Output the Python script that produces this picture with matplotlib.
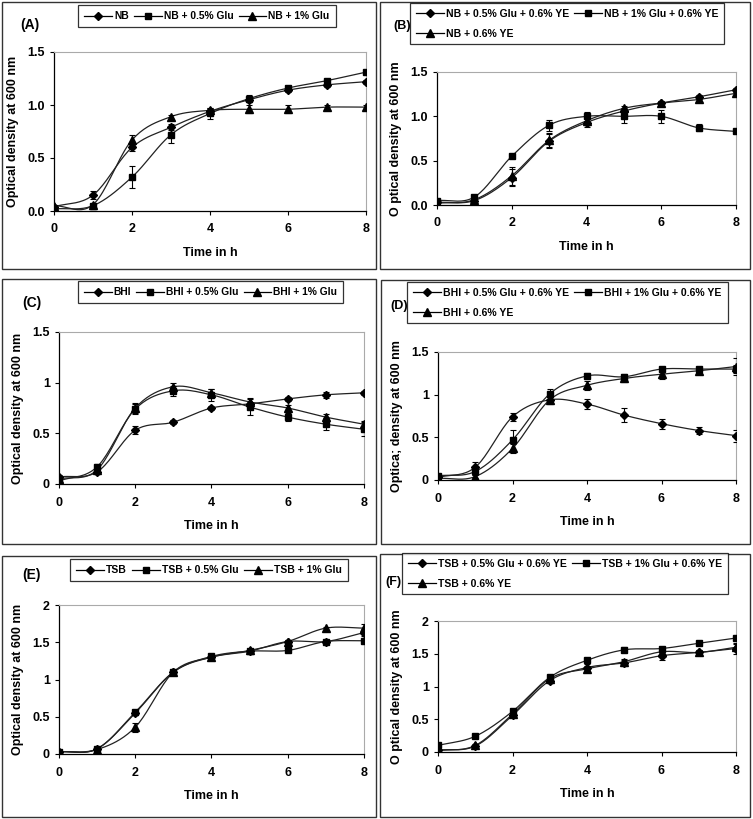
import matplotlib
matplotlib.use("Agg")
import matplotlib.pyplot as plt
import numpy as np
from matplotlib.lines import Line2D
from matplotlib.patches import Rectangle

plt.rcParams['font.family'] = ['Liberation Sans', 'DejaVu Sans']
plt.rcParams['font.weight'] = 'bold'

hours = [0, 1, 2, 3, 4, 5, 6, 7, 8]

# panel A - NB
nb_labels = ["NB", "NB + 0.5% Glu", "NB + 1% Glu"]
nb = [0.04, 0.15, 0.60, 0.79, 0.94, 1.05, 1.14, 1.19, 1.22]
nb_glu05 = [0.02, 0.05, 0.32, 0.72, 0.92, 1.06, 1.16, 1.23, 1.31]
nb_glu1 = [0.05, 0.06, 0.67, 0.89, 0.95, 0.96, 0.96, 0.98, 0.98]
nb_err = [0.02, 0.04, 0.03, 0.03, 0.02, 0.02, 0.02, 0.02, 0.02]
nb_glu05_err = [0.01, 0.02, 0.10, 0.08, 0.05, 0.03, 0.02, 0.02, 0.02]
nb_glu1_err = [0.01, 0.02, 0.05, 0.02, 0.02, 0.04, 0.04, 0.02, 0.02]

# panel B - NB + YE
nbye_labels = ["NB + 0.5% Glu + 0.6% YE", "NB + 1% Glu + 0.6% YE", "NB + 0.6% YE"]
nbye_glu05 = [0.03, 0.05, 0.31, 0.72, 0.93, 1.06, 1.15, 1.22, 1.30]
nbye_glu1 = [0.05, 0.09, 0.55, 0.90, 1.00, 1.00, 1.00, 0.87, 0.83]
nbye = [0.02, 0.06, 0.33, 0.73, 0.95, 1.09, 1.15, 1.19, 1.26]
nbye_glu05_err = [0.02, 0.02, 0.10, 0.08, 0.05, 0.03, 0.02, 0.02, 0.02]
nbye_glu1_err = [0.02, 0.02, 0.02, 0.06, 0.05, 0.07, 0.07, 0.04, 0.02]
nbye_err = [0.02, 0.02, 0.10, 0.08, 0.05, 0.03, 0.02, 0.02, 0.02]

# panel C - BHI
bhi_labels = ["BHI", "BHI + 0.5% Glu", "BHI + 1% Glu"]
bhi = [0.07, 0.12, 0.53, 0.61, 0.75, 0.79, 0.84, 0.88, 0.90]
bhi_glu05 = [0.03, 0.17, 0.74, 0.92, 0.88, 0.76, 0.66, 0.59, 0.54]
bhi_glu1 = [0.05, 0.14, 0.75, 0.96, 0.90, 0.81, 0.75, 0.66, 0.59]
bhi_err = [0.02, 0.02, 0.04, 0.02, 0.02, 0.02, 0.02, 0.03, 0.02]
bhi_glu05_err = [0.02, 0.03, 0.05, 0.05, 0.06, 0.08, 0.04, 0.06, 0.07]
bhi_glu1_err = [0.02, 0.02, 0.05, 0.04, 0.04, 0.04, 0.03, 0.03, 0.03]

# panel D - BHI + YE
bhiye_labels = ["BHI + 0.5% Glu + 0.6% YE", "BHI + 1% Glu + 0.6% YE", "BHI + 0.6% YE"]
bhiye_glu05 = [0.03, 0.15, 0.74, 0.94, 0.89, 0.76, 0.66, 0.58, 0.52]
bhiye_glu1 = [0.05, 0.10, 0.47, 1.01, 1.22, 1.21, 1.30, 1.30, 1.30]
bhiye = [0.02, 0.04, 0.37, 0.94, 1.11, 1.19, 1.24, 1.28, 1.33]
bhiye_glu05_err = [0.02, 0.06, 0.05, 0.03, 0.06, 0.08, 0.06, 0.04, 0.07]
bhiye_glu1_err = [0.02, 0.04, 0.12, 0.06, 0.03, 0.03, 0.03, 0.03, 0.05]
bhiye_err = [0.02, 0.02, 0.05, 0.05, 0.05, 0.04, 0.06, 0.03, 0.10]

# panel E - TSB
tsb_labels = ["TSB", "TSB + 0.5% Glu", "TSB + 1% Glu"]
tsb = [0.03, 0.07, 0.55, 1.10, 1.30, 1.38, 1.51, 1.51, 1.63]
tsb_glu05 = [0.03, 0.07, 0.56, 1.10, 1.31, 1.38, 1.39, 1.51, 1.52]
tsb_glu1 = [0.03, 0.06, 0.36, 1.10, 1.30, 1.39, 1.51, 1.69, 1.69]
tsb_err = [0.02, 0.02, 0.03, 0.03, 0.02, 0.02, 0.02, 0.02, 0.05]
tsb_glu05_err = [0.02, 0.02, 0.03, 0.03, 0.02, 0.02, 0.02, 0.02, 0.02]
tsb_glu1_err = [0.02, 0.02, 0.06, 0.03, 0.02, 0.02, 0.02, 0.02, 0.05]

# panel F - TSB + YE
tsbye_labels = ["TSB + 0.5% Glu + 0.6% YE", "TSB + 1% Glu + 0.6% YE", "TSB + 0.6% YE"]
tsbye_glu05 = [0.03, 0.09, 0.56, 1.09, 1.29, 1.36, 1.47, 1.52, 1.58]
tsbye_glu1 = [0.10, 0.24, 0.62, 1.14, 1.40, 1.56, 1.58, 1.66, 1.74]
tsbye = [0.02, 0.10, 0.58, 1.12, 1.27, 1.38, 1.53, 1.52, 1.60]
tsbye_glu05_err = [0.02, 0.02, 0.03, 0.03, 0.05, 0.05, 0.07, 0.03, 0.08]
tsbye_glu1_err = [0.02, 0.02, 0.03, 0.03, 0.03, 0.04, 0.03, 0.03, 0.03]
tsbye_err = [0.02, 0.02, 0.03, 0.03, 0.04, 0.04, 0.04, 0.03, 0.05]

W, H = 753, 819
markers = ['D', 's', '^']
msizes = [4, 5, 5.5]


def px_box(l, t, r, b):
    return [l / W, 1 - b / H, (r - l) / W, (b - t) / H]


def smooth(x, y, n=20):
    # catmull-rom curve through the measured points, like the spreadsheet "smoothed line"
    x = np.asarray(x, float)
    y = np.asarray(y, float)
    px = np.concatenate([[2 * x[0] - x[1]], x, [2 * x[-1] - x[-2]]])
    py = np.concatenate([[2 * y[0] - y[1]], y, [2 * y[-1] - y[-2]]])
    xs, ys = [], []
    t = np.linspace(0, 1, n, endpoint=False)
    for i in range(1, len(px) - 2):
        for p, out in ((px, xs), (py, ys)):
            p0, p1, p2, p3 = p[i - 1], p[i], p[i + 1], p[i + 2]
            out.extend(0.5 * (2 * p1 + (-p0 + p2) * t + (2 * p0 - 5 * p1 + 4 * p2 - p3) * t ** 2
                              + (-p0 + 3 * p1 - 3 * p2 + p3) * t ** 3))
    xs.append(x[-1])
    ys.append(y[-1])
    return xs, ys


fig = plt.figure(figsize=(W / 100, H / 100), dpi=100)

# outer panel frames
for (l, t, r, b) in [(2, 2, 376, 269), (380, 2, 750, 269), (2, 279, 376, 544),
                     (381, 280, 750, 544), (2, 556, 376, 817), (380, 554, 750, 817)]:
    fig.patches.append(Rectangle((l / W, 1 - b / H), (r - l) / W, (b - t) / H,
                                 transform=fig.transFigure, fill=False,
                                 edgecolor='#333333', linewidth=1.0))

panels = [
    ("(A)", px_box(54, 52, 366, 211), [nb, nb_glu05, nb_glu1], [nb_err, nb_glu05_err, nb_glu1_err],
     nb_labels, 1.5, [0, 0.5, 1.0, 1.5], ["0.0", "0.5", "1.0", "1.5"], "Optical density at 600 nm",
     (78, 5, 339, 27), 3, (20, 25), 7.4),
    ("(B)", px_box(437, 72, 736, 205), [nbye_glu05, nbye_glu1, nbye],
     [nbye_glu05_err, nbye_glu1_err, nbye_err], nbye_labels, 1.5, [0, 0.5, 1.0, 1.5],
     ["0.0", "0.5", "1.0", "1.5"], "O ptical density at 600 nm", (410, 3, 721, 48), 2, (393, 26), 7.45),
    ("(C)", px_box(59, 332, 364, 484), [bhi, bhi_glu05, bhi_glu1], [bhi_err, bhi_glu05_err, bhi_glu1_err],
     bhi_labels, 1.5, [0, 0.5, 1, 1.5], ["0", "0.5", "1", "1.5"], "Optical density at 600 nm",
     (78, 281, 343, 306), 3, (22, 303), 7.35),
    ("(D)", px_box(438, 352, 736, 480), [bhiye_glu05, bhiye_glu1, bhiye],
     [bhiye_glu05_err, bhiye_glu1_err, bhiye_err], bhiye_labels, 1.5, [0, 0.5, 1, 1.5],
     ["0", "0.5", "1", "1.5"], "Optica; density at 600 nm", (407, 282, 727, 324), 2, (390, 306), 7.5),
    ("(E)", px_box(59, 605, 364, 754), [tsb, tsb_glu05, tsb_glu1], [tsb_err, tsb_glu05_err, tsb_glu1_err],
     tsb_labels, 2, [0, 0.5, 1, 1.5, 2], ["0", "0.5", "1", "1.5", "2"], "Optical density at 600 nm",
     (70, 559, 349, 582), 3, (22, 575), 7.45),
    ("(F)", px_box(438, 621, 736, 752), [tsbye_glu05, tsbye_glu1, tsbye],
     [tsbye_glu05_err, tsbye_glu1_err, tsbye_err], tsbye_labels, 2, [0, 0.5, 1, 1.5, 2],
     ["0", "0.5", "1", "1.5", "2"], "O ptical density at 600 nm", (402, 553, 729, 595), 2, (385, 582), 7.5),
]

for tag, box, series, errs, labels, ymax, yt, ytl, ylab, lbox, ncol, tagpos, fsize in panels:
    ax = fig.add_axes(box)
    handles = []
    for i, (vals, err) in enumerate(zip(series, errs)):
        sx, sy = smooth(hours, vals)
        ax.plot(sx, sy, color='#222222', linewidth=0.9, zorder=2)
        ax.errorbar(hours, vals, yerr=err, fmt='none', ecolor='black', elinewidth=0.8,
                    capsize=2.5, capthick=0.8, zorder=3)
        ax.plot(hours, vals, linestyle='none', marker=markers[i], markersize=msizes[i],
                color='black', zorder=4)
        handles.append(Line2D([], [], color='black', linewidth=0.9, marker=markers[i],
                              markersize=msizes[i]))
    ax.set_xlim(0, 8)
    ax.set_ylim(0, ymax)
    ax.set_xticks([0, 2, 4, 6, 8])
    ax.set_yticks(yt)
    ax.set_yticklabels(ytl)
    ax.tick_params(labelsize=9, length=3, width=0.8, direction='out')
    ax.tick_params(axis='x', pad=6)
    for s in ['top', 'right']:
        ax.spines[s].set_color('#aaaaaa')
        ax.spines[s].set_linewidth(0.8)
    for s in ['left', 'bottom']:
        ax.spines[s].set_linewidth(0.9)
    ax.set_xlabel("Time in h", fontsize=9, fontweight='bold', labelpad=8)
    ax.set_ylabel(ylab, fontsize=9, fontweight='bold', labelpad=6)

    l, t, r, b = lbox
    labs = list(labels)
    if ncol == 2:
        # column-first fill: reorder so the third entry lands on the second row
        handles = [handles[0], handles[2], handles[1]]
        labs = [labs[0], labs[2], labs[1]]
        bpad, lspace = 0.55, 0.95
    else:
        bpad, lspace = 0.6, 0.45
    leg = fig.legend(handles, labs, loc='upper left',
                     bbox_to_anchor=(l / W, 1 - t / H),
                     bbox_transform=fig.transFigure, ncol=ncol,
                     fontsize=fsize, frameon=True, fancybox=False, handlelength=2.7,
                     handletextpad=0.2, columnspacing=0.5, borderpad=bpad, labelspacing=lspace,
                     borderaxespad=0)
    leg.get_frame().set_edgecolor('black')
    leg.get_frame().set_linewidth(0.9)
    fig.text(tagpos[0] / W, 1 - tagpos[1] / H, tag, fontsize=10 if ncol == 3 else 9,
             fontweight='bold', ha='left', va='center')

fig.savefig("out.png", dpi=100)
